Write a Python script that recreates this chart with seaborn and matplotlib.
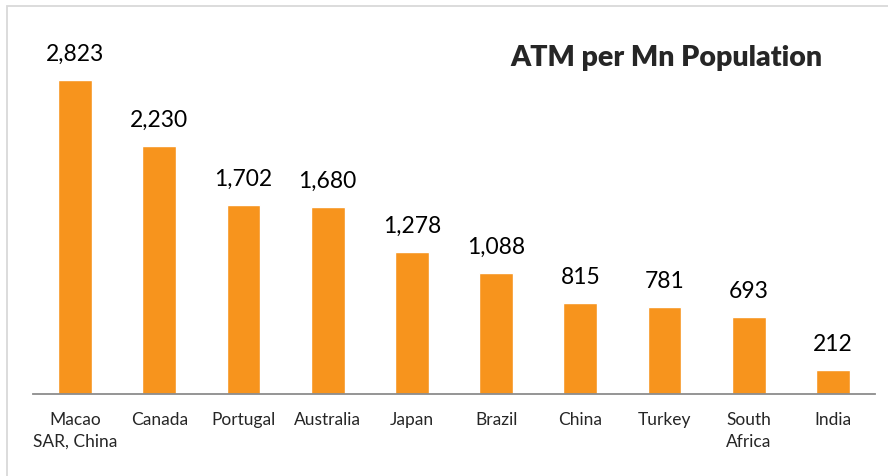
import matplotlib
matplotlib.use("Agg")
import matplotlib.pyplot as plt
import numpy as np
import pandas as pd
import seaborn as sns
from matplotlib.patches import Rectangle

countries = ["Macao\nSAR, China", "Canada", "Portugal", "Australia", "Japan",
             "Brazil", "China", "Turkey", "South\nAfrica", "India"]
atm_per_mn = [2823, 2230, 1702, 1680, 1278, 1088, 815, 781, 693, 212]

df = pd.DataFrame({"country": countries, "atm": atm_per_mn})

sns.set_style("white")
plt.rcParams["font.family"] = ["Lato", "DejaVu Sans"]

fig = plt.figure(figsize=(8.88, 4.76), dpi=100)
ax = fig.add_axes([0.0372, 0.1723, 0.9482, 0.7008])

sns.barplot(data=df, x="country", y="atm", color="#F7941D", width=0.4,
            saturation=1, ax=ax)

for i, v in enumerate(atm_per_mn):
    ax.annotate(f"{v:,}", (i, v), xytext=(0, 11), textcoords="offset points",
                ha="center", va="bottom", fontsize=16.5, color="black")

ax.set_ylim(0, 3000)
ax.set_xlim(-0.5, len(countries) - 0.5)
ax.set_yticks([])
ax.set_xlabel("")
ax.set_ylabel("")
for s in ["top", "right", "left"]:
    ax.spines[s].set_visible(False)
ax.spines["bottom"].set_color("#8c8c8c")
ax.spines["bottom"].set_linewidth(1.3)

ax.set_xticks(np.arange(len(countries)))
ax.set_xticklabels(countries, fontsize=12.5, linespacing=1.45)
ax.tick_params(axis="x", which="major", length=0, pad=13)
ax.set_xticks(np.arange(len(countries) + 1) - 0.5, minor=True)
ax.tick_params(axis="x", which="minor", length=6, width=1.3, color="#8c8c8c",
               direction="out")

fig.text(0.751, 0.878, "ATM per Mn Population", ha="center", va="center",
         fontsize=20.5, fontweight="heavy")

# light chart frame (left and top edge visible)
fig.patches.append(Rectangle((0.008, -0.05), 1.1, 1.037, transform=fig.transFigure,
                             fill=False, edgecolor="#d9d9d9", linewidth=1.3))

fig.savefig("out.png", dpi=100)
